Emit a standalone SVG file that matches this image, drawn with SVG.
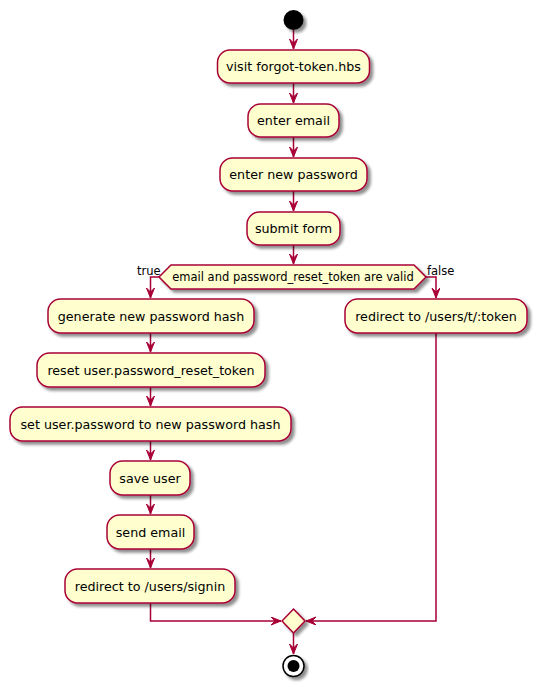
<svg xmlns="http://www.w3.org/2000/svg" width="537" height="685" viewBox="0 0 537 685">
<defs>
<filter id="sh" x="-20%" y="-20%" width="140%" height="160%">
<feGaussianBlur in="SourceAlpha" stdDeviation="1.7"/>
<feOffset dx="3" dy="3" result="b"/>
<feComponentTransfer><feFuncA type="linear" slope="0.45"/></feComponentTransfer>
<feMerge><feMergeNode/><feMergeNode in="SourceGraphic"/></feMerge>
</filter>
<marker id="ah" markerUnits="userSpaceOnUse" markerWidth="12" markerHeight="10" refX="10" refY="4" orient="auto" viewBox="0 0 12 10">
<path d="M0,0 L10,4 L0,8 L4,4 Z" fill="#A80036" stroke="#A80036" stroke-width="1"/>
</marker>
</defs>
<style>
.act{fill:#FEFECE;stroke:#A80036;stroke-width:1.5}
.t{font-family:"DejaVu Sans",sans-serif;font-size:12.7px;fill:#000;text-anchor:middle}
.s{font-family:"DejaVu Sans",sans-serif;font-size:11.5px;fill:#000}
.e{fill:none;stroke:#A80036;stroke-width:1.5}
</style>
<rect width="537" height="685" fill="#fff"/>
<g id="connectors">
<path class="e" d="M293.5,30 V49" marker-end="url(#ah)"/>
<path class="e" d="M293.5,83 V103" marker-end="url(#ah)"/>
<path class="e" d="M293.5,137 V157" marker-end="url(#ah)"/>
<path class="e" d="M293.5,191 V211" marker-end="url(#ah)"/>
<path class="e" d="M293.5,245 V264" marker-end="url(#ah)"/>
<path class="e" d="M159,277 H150.5 V298" marker-end="url(#ah)"/>
<path class="e" d="M426,277 H436 V298" marker-end="url(#ah)"/>
<path class="e" d="M150.5,333 V352" marker-end="url(#ah)"/>
<path class="e" d="M150.5,387 V406" marker-end="url(#ah)"/>
<path class="e" d="M150.5,441 V460" marker-end="url(#ah)"/>
<path class="e" d="M150.5,495 V514" marker-end="url(#ah)"/>
<path class="e" d="M150.5,549 V568" marker-end="url(#ah)"/>
<path class="e" d="M150.5,603 V621 H281" marker-end="url(#ah)"/>
<path class="e" d="M436,333 V621 H306" marker-end="url(#ah)"/>
<path class="e" d="M293.5,633 V654" marker-end="url(#ah)"/>
</g>
<g id="start" filter="url(#sh)"><circle cx="293.5" cy="20" r="10" fill="#000"/></g>
<g id="n1" filter="url(#sh)"><rect class="act" x="217.5" y="50" width="152" height="33" rx="12.5"/></g>
<text class="t" x="293.5" y="71">visit forgot-token.hbs</text>
<g id="n2" filter="url(#sh)"><rect class="act" x="248" y="104" width="91" height="33" rx="12.5"/></g>
<text class="t" x="293.5" y="125">enter email</text>
<g id="n3" filter="url(#sh)"><rect class="act" x="220" y="158" width="147" height="33" rx="12.5"/></g>
<text class="t" x="293.5" y="179">enter new password</text>
<g id="n4" filter="url(#sh)"><rect class="act" x="247" y="212" width="93" height="33" rx="12.5"/></g>
<text class="t" x="293.5" y="233">submit form</text>
<g id="d1" filter="url(#sh)"><polygon class="act" points="171,265 414,265 426,277 414,289 171,289 159,277"/></g>
<text class="s" x="293" y="281" text-anchor="middle">email and password_reset_token are valid</text>
<text class="s" x="137" y="275">true</text>
<text class="s" x="427" y="275">false</text>
<g id="n5" filter="url(#sh)"><rect class="act" x="48" y="299" width="206" height="34" rx="12.5"/></g>
<text class="t" x="151" y="320.5">generate new password hash</text>
<g id="n6" filter="url(#sh)"><rect class="act" x="37" y="353" width="228" height="34" rx="12.5"/></g>
<text class="t" x="151" y="374.5">reset user.password_reset_token</text>
<g id="n7" filter="url(#sh)"><rect class="act" x="10" y="407" width="281" height="34" rx="12.5"/></g>
<text class="t" x="150.5" y="428.5">set user.password to new password hash</text>
<g id="n8" filter="url(#sh)"><rect class="act" x="110" y="461" width="80" height="34" rx="12.5"/></g>
<text class="t" x="150" y="482.5">save user</text>
<g id="n9" filter="url(#sh)"><rect class="act" x="107" y="515" width="87" height="34" rx="12.5"/></g>
<text class="t" x="150.5" y="536.5">send email</text>
<g id="n10" filter="url(#sh)"><rect class="act" x="65" y="569" width="170" height="34" rx="12.5"/></g>
<text class="t" x="150" y="590.5">redirect to /users/signin</text>
<g id="n11" filter="url(#sh)"><rect class="act" x="345" y="299" width="182" height="34" rx="12.5"/></g>
<text class="t" x="436" y="320.5">redirect to /users/t/:token</text>
<g id="merge" filter="url(#sh)"><polygon class="act" points="293.5,609 305,621 293.5,633 282,621"/></g>
<g id="end" filter="url(#sh)"><circle cx="293.5" cy="666" r="10.5" fill="#fff" stroke="#000" stroke-width="1.5"/><circle cx="293.5" cy="666" r="6" fill="#000"/></g>
</svg>
